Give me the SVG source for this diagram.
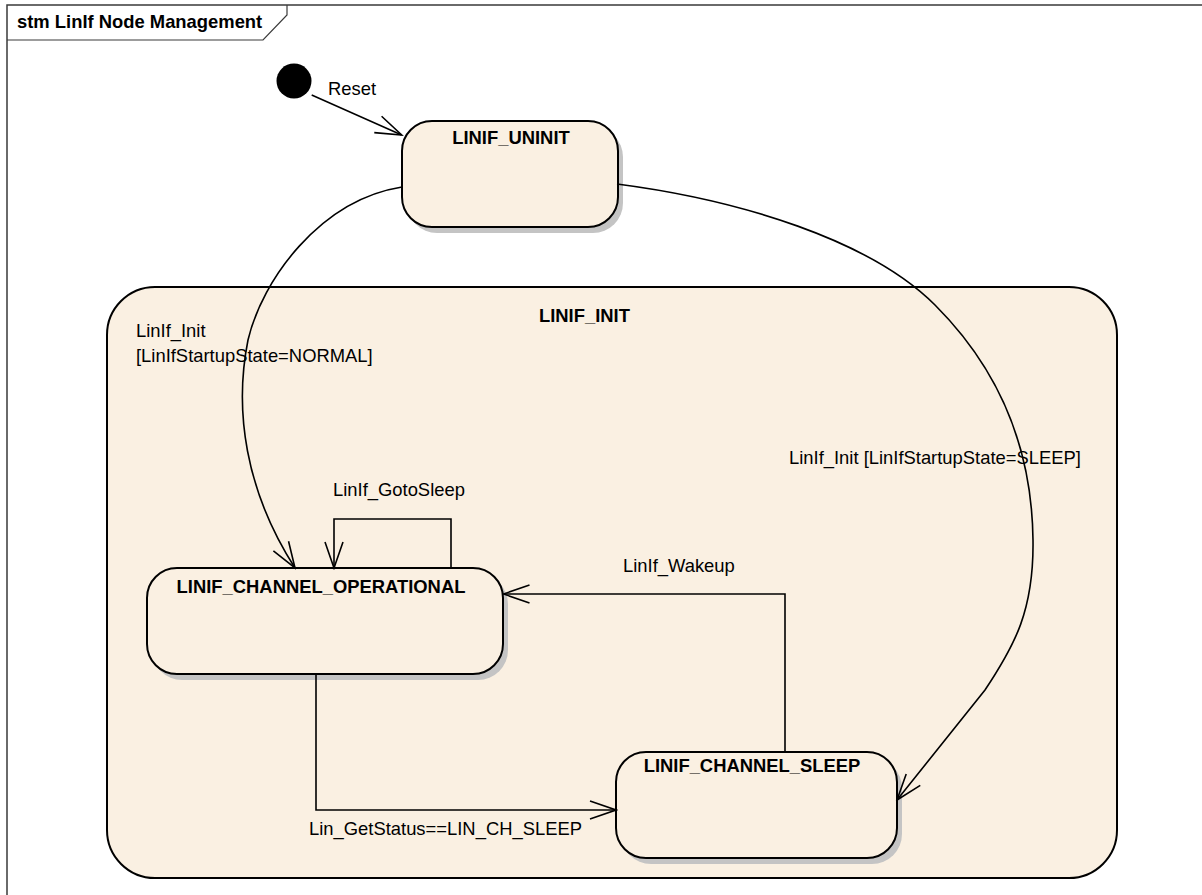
<svg xmlns="http://www.w3.org/2000/svg" width="1202" height="895" viewBox="0 0 1202 895">
<defs>
<style>
.st{fill:#FAF0E2;stroke:#000;stroke-width:2}
.sh{fill:#C4C4C4;stroke:none}
.nm{font-family:"Liberation Sans",Arial,sans-serif;font-weight:bold;font-size:18.4px;fill:#000}
.lb{font-family:"Liberation Sans",Arial,sans-serif;font-size:18.4px;fill:#000}
.cn{fill:none;stroke:#000;stroke-width:1.6}
</style>
<marker id="arr" viewBox="0 0 30 24" refX="28" refY="12" markerWidth="30" markerHeight="24" markerUnits="userSpaceOnUse" orient="auto">
<path d="M2 3 L28 12 L2 21" fill="none" stroke="#000" stroke-width="1.6"/>
</marker>
</defs>
<rect width="1202" height="895" fill="#fff"/>
<g id="frame">
<path d="M7 895 V5 H1202" fill="none" stroke="#3a3a3a" stroke-width="1.5"/>
<path d="M7 40 H263 L287 15 V5" fill="none" stroke="#3a3a3a" stroke-width="1.2"/>
<text x="17" y="28" class="nm" style="font-size:18.4px">stm LinIf Node Management</text>
</g>
<g id="LINIF_INIT">
<rect x="107" y="287" width="1010" height="591" rx="48" ry="48" class="st"/>
<text x="539" y="322" class="nm">LINIF_INIT</text>
</g>
<g id="initial">
<circle cx="294" cy="81" r="17.5" fill="#000"/>
</g>
<g id="LINIF_UNINIT">
<rect x="407" y="127" width="216" height="106" rx="30" class="sh"/>
<rect x="402" y="121" width="216" height="106" rx="30" class="st"/>
<text x="511" y="144" class="nm" text-anchor="middle">LINIF_UNINIT</text>
</g>
<g id="LINIF_CHANNEL_OPERATIONAL">
<rect x="152" y="574" width="356" height="106" rx="30" class="sh"/>
<rect x="147" y="568" width="356" height="106" rx="30" class="st"/>
<text x="321" y="593" class="nm" text-anchor="middle">LINIF_CHANNEL_OPERATIONAL</text>
</g>
<g id="LINIF_CHANNEL_SLEEP">
<rect x="621" y="758" width="281" height="106" rx="30" class="sh"/>
<rect x="616" y="752" width="281" height="106" rx="30" class="st"/>
<text x="752" y="772" class="nm" text-anchor="middle">LINIF_CHANNEL_SLEEP</text>
</g>
<g id="connectors">
<path d="M311.7 95 L401.7 135" class="cn" marker-end="url(#arr)"/>
<path d="M402 187 C320 200 262 280 248 340 C234 410 245 490 295 568" class="cn" marker-end="url(#arr)"/>
<path d="M617 184 C740 200 870 240 935 305 C1000 370 1032 450 1033 540 C1034 610 1015 645 985 690 L897 800" class="cn" marker-end="url(#arr)"/>
<path d="M451 568 V519 H334 V568" class="cn" marker-end="url(#arr)"/>
<path d="M785 752 V594 H503.5" class="cn" marker-end="url(#arr)"/>
<path d="M316 674 V810 H616" class="cn" marker-end="url(#arr)"/>
</g>
<g id="labels">
<text x="328" y="95" class="lb">Reset</text>
<text x="136" y="337" class="lb">LinIf_Init</text>
<text x="136" y="362" class="lb">[LinIfStartupState=NORMAL]</text>
<text x="789" y="464" class="lb">LinIf_Init [LinIfStartupState=SLEEP]</text>
<text x="333" y="496" class="lb">LinIf_GotoSleep</text>
<text x="623" y="572" class="lb">LinIf_Wakeup</text>
<text x="309" y="835" class="lb">Lin_GetStatus==LIN_CH_SLEEP</text>
</g>
</svg>
